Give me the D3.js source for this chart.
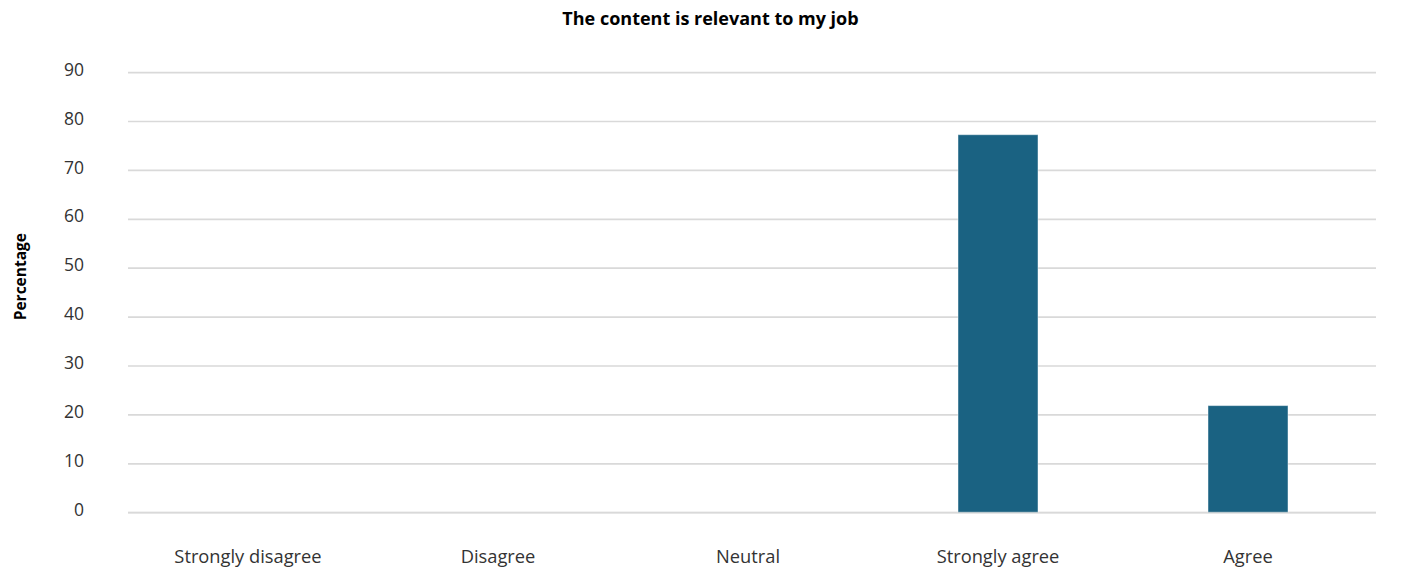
<!DOCTYPE html>
<html>
<head>
<meta charset="utf-8">
<script src="https://cdn.jsdelivr.net/npm/d3@7"></script>
<style>
  html, body { margin: 0; padding: 0; background: #fff; }
  svg { display: block; font-family: "Open Sans", Lato, sans-serif; }
</style>
</head>
<body>
<svg id="chart" width="1411" height="572"></svg>
<script>
// Survey responses: share of respondents per answer
const categories = ["Strongly disagree", "Disagree", "Neutral", "Strongly agree", "Agree"];
const percentages = [0, 0, 0, 77.3, 21.9];
const yTicks = [0, 10, 20, 30, 40, 50, 60, 70, 80, 90];
const chartTitle = "The content is relevant to my job";
const yAxisTitle = "Percentage";

const width = 1411, height = 572;
const margin = { top: 72.6, right: 35, bottom: 59.3, left: 128 };
const fontFamily = "'Open Sans', Lato, sans-serif";

const svg = d3.select("#chart");

const x = d3.scaleBand()
  .domain(categories)
  .range([margin.left, width - margin.right - 8])
  .paddingInner(0.68)
  .paddingOuter(0.32);

const y = d3.scaleLinear()
  .domain([0, 90])
  .range([height - margin.bottom, margin.top]);

// Horizontal gridlines
svg.append("g")
  .selectAll("line")
  .data(yTicks)
  .join("line")
  .attr("x1", margin.left)
  .attr("x2", width - margin.right)
  .attr("y1", d => y(d))
  .attr("y2", d => y(d))
  .attr("stroke", "#d9d9d9")
  .attr("stroke-width", 1.7);

// Y axis tick labels
const yAxis = d3.axisLeft(y).tickValues(yTicks).tickSize(0).tickPadding(0);
const gy = svg.append("g")
  .attr("transform", `translate(${84},0)`)
  .call(yAxis);
gy.select(".domain").remove();
gy.selectAll("text")
  .attr("font-family", fontFamily)
  .attr("font-size", 17.5)
  .attr("dy", "0.15em")
  .attr("fill", "#333");

// Bars
svg.append("g")
  .selectAll("rect")
  .data(categories.map((c, i) => ({ c, v: percentages[i] })).filter(d => d.v > 0))
  .join("rect")
  .attr("x", d => x(d.c))
  .attr("width", x.bandwidth())
  .attr("y", d => y(d.v))
  .attr("height", d => y(0) - y(d.v))
  .attr("fill", "#1a6282")
  .attr("stroke", "#ffffff")
  .attr("stroke-opacity", 0.45)
  .attr("stroke-width", 1);

// Baseline drawn over the bars
svg.append("line")
  .attr("x1", margin.left)
  .attr("x2", width - margin.right)
  .attr("y1", y(0))
  .attr("y2", y(0))
  .attr("stroke", "#d9d9d9")
  .attr("stroke-opacity", 0.6)
  .attr("stroke-width", 1.7);

// X axis category labels
const xAxis = d3.axisBottom(x).tickSize(0).tickPadding(0);
const gx = svg.append("g")
  .attr("transform", `translate(0,${y(0) + 50.6})`)
  .call(xAxis);
gx.select(".domain").remove();
gx.selectAll("text")
  .attr("font-family", fontFamily)
  .attr("font-size", 18.3)
  .attr("dy", 0)
  .attr("fill", "#333");

// Chart title
svg.append("text")
  .attr("x", width / 2 + 5)
  .attr("y", 25)
  .attr("text-anchor", "middle")
  .attr("font-family", fontFamily)
  .attr("font-size", 18)
  .attr("font-weight", "bold")
  .attr("fill", "#000")
  .text(chartTitle);

// Y axis title
svg.append("text")
  .attr("transform", `translate(26,${(y(0) + y(90)) / 2 - 16}) rotate(-90)`)
  .attr("text-anchor", "middle")
  .attr("font-family", fontFamily)
  .attr("font-size", 15.5)
  .attr("font-weight", "bold")
  .attr("fill", "#000")
  .text(yAxisTitle);
</script>
</body>
</html>
